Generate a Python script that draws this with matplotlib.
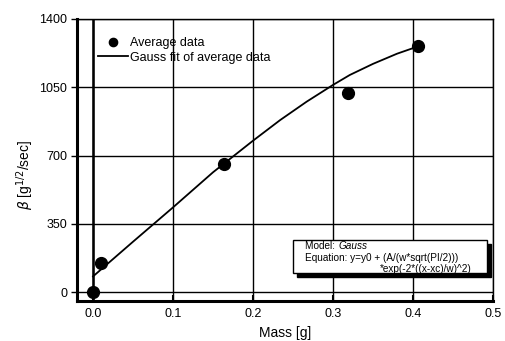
import matplotlib
matplotlib.use("Agg")
import matplotlib.pyplot as plt
from matplotlib.patches import Rectangle

plt.rcParams['font.family'] = ['Liberation Sans', 'DejaVu Sans']

# measured averages
mass = [0.0, 0.01, 0.164, 0.319, 0.406]
beta = [0, 150, 654, 1019, 1261]

# Gauss fit curve
fit_x = [0.0, 0.05, 0.1, 0.15, 0.2, 0.234, 0.267, 0.3, 0.321, 0.35, 0.38, 0.408]
fit_y = [80, 258, 434, 614, 776, 882, 976, 1062, 1113, 1170, 1222, 1262]

xticks = [0.0, 0.1, 0.2, 0.3, 0.4, 0.5]
xticklabels = ['0.0', '0.1', '0.2', '0.3', '0.4', '0.5']
yticks = [0, 350, 700, 1050, 1400]

fig = plt.figure(figsize=(5.05, 3.41), dpi=100)
ax = fig.add_axes([0.1525, 0.1173, 0.8238, 0.827])

ax.set_xlim(-0.02, 0.5)
ax.set_ylim(-46, 1400)
ax.set_xticks(xticks)
ax.set_xticklabels(xticklabels)
ax.set_yticks(yticks)
ax.grid(True, color='black', linewidth=1.0)
ax.axvline(0, color='black', linewidth=1.8, zorder=1)

ax.tick_params(axis='x', direction='in', length=4, width=1.5, labelsize=9, pad=5)
ax.tick_params(axis='y', direction='out', length=4, width=1.0, labelsize=9, pad=3)
ax.spines['left'].set_linewidth(2.2)
ax.spines['bottom'].set_linewidth(2.2)
ax.spines['top'].set_linewidth(1.0)
ax.spines['right'].set_linewidth(1.0)

ax.plot(fit_x, fit_y, color='black', linewidth=1.3, zorder=3,
        label='Gauss fit of average data')
ax.plot(mass, beta, 'o', color='black', markersize=8.5, zorder=4,
        label='Average data')

handles, labels = ax.get_legend_handles_labels()
leg = ax.legend(handles[::-1], labels[::-1], loc='upper left',
                bbox_to_anchor=(0.05, 0.935), frameon=False, fontsize=9,
                borderpad=0, borderaxespad=0,
                handlelength=2.4, handletextpad=0.2, labelspacing=0.2,
                markerscale=0.7)

ax.set_xlabel('Mass [g]', fontsize=10, labelpad=4)
ax.set_ylabel(r'$\beta$ [g$^{1/2}$/sec]', fontsize=10)
ax.yaxis.set_label_coords(-0.098, 0.447)

# fit info box with shadow
x0, y0, w, h = 0.519, 0.099, 0.467, 0.117
ax.add_patch(Rectangle((x0 + 0.01, y0 - 0.015), w, h, transform=ax.transAxes,
                       facecolor='black', edgecolor='black', zorder=5))
ax.add_patch(Rectangle((x0, y0), w, h, transform=ax.transAxes,
                       facecolor='white', edgecolor='black', linewidth=1.0, zorder=6))
t1 = ax.text(x0 + 0.03, 0.196, 'Model: ', transform=ax.transAxes,
             fontsize=7.2, va='center', zorder=7)
ax.annotate('Gauss', xy=(1, 0.5), xycoords=t1, fontsize=7.2, va='center',
            style='italic', zorder=7)
ax.text(x0 + 0.03, 0.151, 'Equation: y=y0 + (A/(w*sqrt(PI/2)))',
        transform=ax.transAxes, fontsize=7.2, va='center', zorder=7)
ax.text(x0 + w - 0.037, 0.113, '*exp(-2*((x-xc)/w)^2)',
        transform=ax.transAxes, fontsize=7.2, va='center', ha='right', zorder=7)

fig.savefig('out.png', dpi=100)
